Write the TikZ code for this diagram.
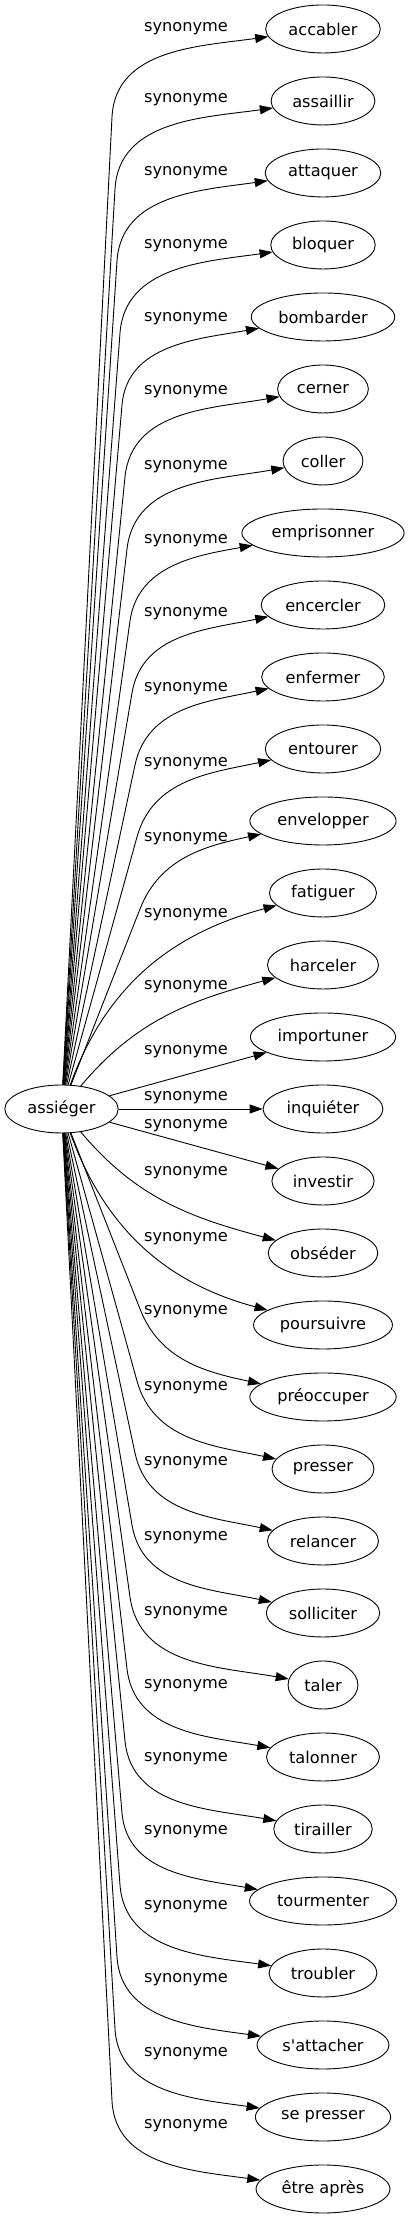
\documentclass[tikz,border=0pt]{standalone}
\usepackage{fontspec}
\usepackage{tikz}
\usetikzlibrary{arrows.meta}
\usetikzlibrary{shapes.geometric}
\newfontfamily\dejavu{DejaVu Sans}
\tikzset{
   mot/.style={draw=black, ellipse, line width=0.9pt,
      inner xsep=6pt, inner ysep=0pt, minimum height=48pt,
      font=\dejavu\fontsize{16.2}{19}\selectfont},
   rel/.style={inner sep=0pt, font=\dejavu\fontsize{16.2}{19}\selectfont},
   syn/.style={draw=black, line width=0.9pt,
      -{Triangle[length=13pt,width=9pt]}},
    }
\begin{document}
\begin{tikzpicture}[x=1pt,y=1pt]
            \useasboundingbox (0,0) rectangle (408,2219);
            \node[mot] (assieger) at(61.5,1110) {assiéger};
            \node[mot] (accabler) at(323,2190) {accabler};
            \node[mot] (assaillir) at(323,2118) {assaillir};
            \node[mot] (attaquer) at(323,2046) {attaquer};
            \node[mot] (bloquer) at(323,1974) {bloquer};
            \node[mot] (bombarder) at(323,1902) {bombarder};
            \node[mot] (cerner) at(323,1830) {cerner};
            \node[mot] (coller) at(323,1758) {coller};
            \node[mot] (emprisonner) at(323,1686) {emprisonner};
            \node[mot] (encercler) at(323,1614) {encercler};
            \node[mot] (enfermer) at(323,1542) {enfermer};
            \node[mot] (entourer) at(323,1470) {entourer};
            \node[mot] (envelopper) at(323,1398) {envelopper};
            \node[mot] (fatiguer) at(323,1326) {fatiguer};
            \node[mot] (harceler) at(323,1254) {harceler};
            \node[mot] (importuner) at(323,1182) {importuner};
            \node[mot] (inquieter) at(323,1110) {inquiéter};
            \node[mot] (investir) at(323,1038) {investir};
            \node[mot] (obseder) at(323,966) {obséder};
            \node[mot] (poursuivre) at(323,894) {poursuivre};
            \node[mot] (preoccuper) at(323,822) {préoccuper};
            \node[mot] (presser) at(323,750) {presser};
            \node[mot] (relancer) at(323,678) {relancer};
            \node[mot] (solliciter) at(323,606) {solliciter};
            \node[mot] (taler) at(323,534) {taler};
            \node[mot] (talonner) at(323,462) {talonner};
            \node[mot] (tirailler) at(323,390) {tirailler};
            \node[mot] (tourmenter) at(323,318) {tourmenter};
            \node[mot] (troubler) at(323,246) {troubler};
            \node[mot] (sattacher) at(323,174) {s'attacher};
            \node[mot] (sepresser) at(323,102) {se presser};
            \node[mot] (etreapres) at(323,30) {être après};
            % edge labels
            \node[rel] (syn1) at(186,2190) {synonyme};
            \node[rel] (syn2) at(186,2119) {synonyme};
            \node[rel] (syn3) at(186,2046) {synonyme};
            \node[rel] (syn4) at(186,1973) {synonyme};
            \node[rel] (syn5) at(186,1900) {synonyme};
            \node[rel] (syn6) at(186,1827) {synonyme};
            \node[rel] (syn7) at(186,1752) {synonyme};
            \node[rel] (syn8) at(186,1678) {synonyme};
            \node[rel] (syn9) at(186,1605) {synonyme};
            \node[rel] (syn10) at(186,1530) {synonyme};
            \node[rel] (syn11) at(186,1455) {synonyme};
            \node[rel] (syn12) at(186,1380) {synonyme};
            \node[rel] (syn13) at(186,1304) {synonyme};
            \node[rel] (syn14) at(186,1232) {synonyme};
            \node[rel] (syn15) at(186,1167) {synonyme};
            \node[rel] (syn16) at(186,1121) {synonyme};
            \node[rel] (syn17) at(186,1093) {synonyme};
            \node[rel] (syn18) at(186,1046) {synonyme};
            \node[rel] (syn19) at(186,980) {synonyme};
            \node[rel] (syn20) at(186,907) {synonyme};
            \node[rel] (syn21) at(186,831) {synonyme};
            \node[rel] (syn22) at(186,756) {synonyme};
            \node[rel] (syn23) at(186,681) {synonyme};
            \node[rel] (syn24) at(186,606) {synonyme};
            \node[rel] (syn25) at(186,533) {synonyme};
            \node[rel] (syn26) at(186,460) {synonyme};
            \node[rel] (syn27) at(186,387) {synonyme};
            \node[rel] (syn28) at(186,312) {synonyme};
            \node[rel] (syn29) at(186,239) {synonyme};
            \node[rel] (syn30) at(186,165) {synonyme};
            \node[rel] (syn31) at(186,93) {synonyme};
            % edges
            \draw[syn](assieger)--(112,2102)to[out=87.1,in=188](accabler);
            \draw[syn](assieger)--(115,2030)to[out=86.7,in=188](assaillir);
            \draw[syn](assieger)--(117,1958)to[out=86.3,in=188](attaquer);
            \draw[syn](assieger)--(120,1886)to[out=85.7,in=188](bloquer);
            \draw[syn](assieger)--(122,1814)to[out=85.1,in=190](bombarder);
            \draw[syn](assieger)--(125,1742)to[out=84.3,in=190](cerner);
            \draw[syn](assieger)--(127,1670)to[out=83.3,in=190](coller);
            \draw[syn](assieger)--(130,1598)to[out=82.0,in=190](emprisonner);
            \draw[syn](assieger)--(132,1526)to[out=80.4,in=192](encercler);
            \draw[syn](assieger)--(135,1454)to[out=77.9,in=192](enfermer);
            \draw[syn](assieger)--(137,1382)to[out=74.5,in=192](entourer);
            \draw[syn](assieger)--(140,1310)to[out=68.6,in=192](envelopper);
            \draw[syn](assieger)to[out=70,in=195](fatiguer);
            \draw[syn](assieger)to[out=50,in=195](harceler);
            \draw[syn](assieger)--(importuner);
            \draw[syn](assieger)--(inquieter);
            \draw[syn](assieger)--(investir);
            \draw[syn](assieger)to[out=-50,in=165](obseder);
            \draw[syn](assieger)to[out=-70,in=165](poursuivre);
            \draw[syn](assieger)--(140,910)to[out=-68.6,in=168](preoccuper);
            \draw[syn](assieger)--(137,838)to[out=-74.5,in=168](presser);
            \draw[syn](assieger)--(135,766)to[out=-77.9,in=168](relancer);
            \draw[syn](assieger)--(132,694)to[out=-80.4,in=168](solliciter);
            \draw[syn](assieger)--(130,622)to[out=-82.0,in=170](taler);
            \draw[syn](assieger)--(127,550)to[out=-83.3,in=170](talonner);
            \draw[syn](assieger)--(125,478)to[out=-84.3,in=170](tirailler);
            \draw[syn](assieger)--(122,406)to[out=-85.1,in=170](tourmenter);
            \draw[syn](assieger)--(120,334)to[out=-85.7,in=172](troubler);
            \draw[syn](assieger)--(117,262)to[out=-86.3,in=172](sattacher);
            \draw[syn](assieger)--(115,190)to[out=-86.7,in=172](sepresser);
            \draw[syn](assieger)--(112,118)to[out=-87.1,in=172](etreapres);
        \end{tikzpicture}
\end{document}
